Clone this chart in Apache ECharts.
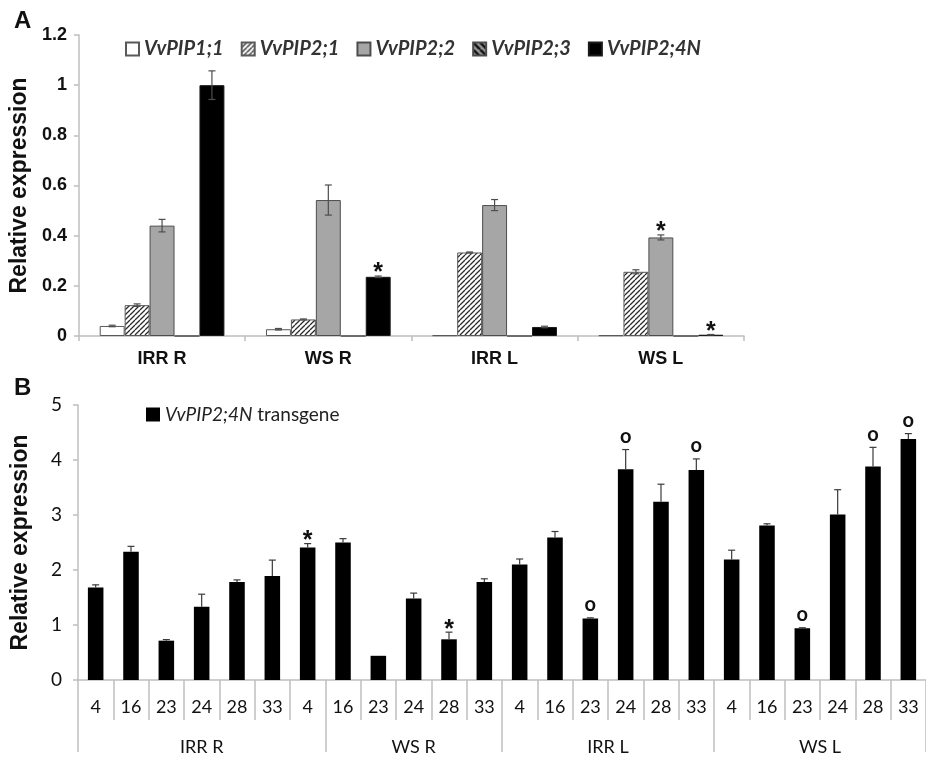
<!DOCTYPE html>
<html>
<head>
<meta charset="utf-8">
<script src="https://cdn.jsdelivr.net/npm/echarts@6/dist/echarts.min.js"></script>
<style>
  html, body { margin: 0; padding: 0; background: #fff; }
  #chart { width: 926px; height: 758px; }
</style>
</head>
<body>
<div id="chart"></div>
<script>
// ---- Panel A: native aquaporin expression per condition ----
const groupsA = ['IRR R', 'WS R', 'IRR L', 'WS L'];
const genesA = ['VvPIP1;1', 'VvPIP2;1', 'VvPIP2;2', 'VvPIP2;3', 'VvPIP2;4N'];
const pip11 = [0.040, 0.027, 0.003, 0.003];
const pip11Err = [0.003, 0.003, 0, 0];
const pip21 = [0.123, 0.066, 0.333, 0.256];
const pip21Err = [0.005, 0.002, 0.002, 0.008];
const pip22 = [0.440, 0.542, 0.522, 0.393];
const pip22Err = [0.025, 0.060, 0.022, 0.010];
const pip23 = [0, 0, 0, 0];
const pip23Err = [0, 0, 0, 0];
const pip24N = [1.000, 0.236, 0.036, 0.005];
const pip24NErr = [0.057, 0.003, 0.003, 0.001];
const pip11Marks = ['', '', '', ''];
const pip21Marks = ['', '', '', ''];
const pip22Marks = ['', '', '', '*'];
const pip23Marks = ['', '', '', ''];
const pip24NMarks = ['', '*', '', '*'];
const yTicksA = { min: 0, max: 1.2, step: 0.2 };

// ---- Panel B: transgene expression per plant line ----
const linesB = ['4', '16', '23', '24', '28', '33', '4', '16', '23', '24', '28', '33',
                '4', '16', '23', '24', '28', '33', '4', '16', '23', '24', '28', '33'];
const groupsB = ['IRR R', 'WS R', 'IRR L', 'WS L'];
const groupBoundsB = [0, 7, 12, 18, 24];
const transgene = [1.68, 2.33, 0.715, 1.33, 1.78, 1.89, 2.41, 2.50, 0.44, 1.48, 0.74, 1.78,
                   2.10, 2.59, 1.12, 3.83, 3.24, 3.82, 2.19, 2.81, 0.94, 3.01, 3.88, 4.38];
const transgeneErr = [0.05, 0.10, 0.02, 0.23, 0.04, 0.29, 0.07, 0.07, 0.00, 0.10, 0.13, 0.06,
                      0.10, 0.11, 0.01, 0.36, 0.32, 0.20, 0.17, 0.03, 0.01, 0.45, 0.35, 0.10];
const transgeneMarks = ['', '', '', '', '', '', '*', '', '', '', '*', '',
                        '', '', 'o', 'o', '', 'o', '', '', 'o', '', 'o', 'o'];
const yTicksB = { min: 0, max: 5, step: 1 };

// ---- styling helpers ----
const AXIS_GRAY = '#bfbfbf';
const ERR_COLOR = '#4d4d4d';
const ARIAL = '"Liberation Sans", Arial, sans-serif';
const CALIBRI = 'Lato, "Open Sans", sans-serif';

function hatch(size, width, stroke, bg, forward) {
  const c = document.createElement('canvas');
  c.width = size; c.height = size;
  const g = c.getContext('2d');
  g.fillStyle = bg; g.fillRect(0, 0, size, size);
  g.strokeStyle = stroke; g.lineWidth = width;
  g.beginPath();
  for (let k = -1; k <= 1; k++) {
    if (forward) { g.moveTo(k * size, size); g.lineTo(k * size + size, 0); }
    else { g.moveTo(k * size, 0); g.lineTo(k * size + size, size); }
  }
  g.stroke();
  return { image: c, repeat: 'repeat' };
}

const fillsA = [
  '#ffffff',
  hatch(5, 1.3, '#2b2b2b', '#ffffff', true),
  '#a6a6a6',
  hatch(7, 2.6, '#111111', '#9a9a9a', false),
  '#000000'
];
const bordersA = ['#595959', '#595959', '#4d4d4d', '#4d4d4d', '#1a1a1a'];
const valuesA = [pip11, pip21, pip22, pip23, pip24N];
const errsA = [pip11Err, pip21Err, pip22Err, pip23Err, pip24NErr];
const marksA = [pip11Marks, pip21Marks, pip22Marks, pip23Marks, pip24NMarks];
const GAP_A = 0.25;

function errorBarsA(si) {
  return function (params, api) {
    const k = api.value(0), v = api.value(1), e = api.value(2);
    const band = api.size([1, 0])[0];
    const bw = band * (1 - GAP_A) / genesA.length;
    const x = api.coord([k, 0])[0] - band * (1 - GAP_A) / 2 + bw * (si + 0.5);
    const yHi = api.coord([k, v + e])[1];
    const yLo = api.coord([k, Math.max(v - e, 0)])[1];
    const children = [];
    const st = { stroke: ERR_COLOR, lineWidth: 1.2 };
    if (e > 0) {
      children.push({ type: 'line', shape: { x1: x, y1: yHi, x2: x, y2: yLo }, style: st });
      children.push({ type: 'line', shape: { x1: x - 3.5, y1: yHi, x2: x + 3.5, y2: yHi }, style: st });
      children.push({ type: 'line', shape: { x1: x - 3.5, y1: yLo, x2: x + 3.5, y2: yLo }, style: st });
    }
    const m = marksA[si][params.dataIndex];
    if (m) {
      children.push({ type: 'text', style: {
        text: m, x: x, y: yHi + 10, align: 'center', verticalAlign: 'bottom',
        font: 'bold 25px ' + ARIAL, fill: '#111' } });
    }
    return { type: 'group', children: children };
  };
}

function errorBarsB(params, api) {
  const k = api.value(0), v = api.value(1), e = api.value(2);
  const x = api.coord([k, 0])[0];
  const yTop = api.coord([k, v + e])[1];
  const yBar = api.coord([k, v])[1];
  const children = [];
  const st = { stroke: '#3a3a3a', lineWidth: 1.2 };
  if (e > 0) {
    children.push({ type: 'line', shape: { x1: x, y1: yTop, x2: x, y2: yBar }, style: st });
    children.push({ type: 'line', shape: { x1: x - 3.5, y1: yTop, x2: x + 3.5, y2: yTop }, style: st });
  }
  const m = transgeneMarks[params.dataIndex];
  if (m === '*') {
    children.push({ type: 'text', style: { text: m, x: x, y: yTop + 10, align: 'center',
      verticalAlign: 'bottom', font: 'bold 25px ' + ARIAL, fill: '#111' } });
  } else if (m) {
    children.push({ type: 'text', style: { text: m, x: x, y: yTop - 3, align: 'center',
      verticalAlign: 'bottom', font: 'bold 20px ' + CALIBRI, fill: '#111' } });
  }
  return { type: 'group', children: children };
}

const seriesA = [];
genesA.forEach(function (name, si) {
  seriesA.push({
    name: name, type: 'bar', xAxisIndex: 0, yAxisIndex: 0,
    barGap: '0%', barCategoryGap: (GAP_A * 100) + '%',
    itemStyle: { color: fillsA[si], borderColor: bordersA[si], borderWidth: 1 },
    data: valuesA[si], z: 2
  });
});
genesA.forEach(function (name, si) {
  seriesA.push({
    type: 'custom', xAxisIndex: 0, yAxisIndex: 0, z: 5, silent: true,
    renderItem: errorBarsA(si),
    data: valuesA[si].map(function (v, k) { return [k, v, errsA[si][k]]; })
  });
});

const groupCentersB = groupsB.map(function (g, i) {
  return (groupBoundsB[i] + groupBoundsB[i + 1]) / 2;
});

const option = {
  animation: false,
  backgroundColor: '#ffffff',
  title: [
    { text: 'A', left: 9, top: 4, textStyle: { fontFamily: ARIAL, fontWeight: 'bold', fontSize: 24, color: '#111' } },
    { text: 'B', left: 9, top: 371, textStyle: { fontFamily: ARIAL, fontWeight: 'bold', fontSize: 24, color: '#111' } }
  ],
  legend: [
    {
      data: genesA, left: 120, top: 34, itemWidth: 13, itemHeight: 13, itemGap: 17,
      icon: 'rect',
      textStyle: { fontFamily: CALIBRI, fontWeight: 'bold', fontStyle: 'italic', fontSize: 20, color: '#333' }
    },
    {
      data: ['VvPIP2;4N transgene'], left: 141, top: 400, itemWidth: 14, itemHeight: 14,
      icon: 'rect',
      formatter: function () { return '{i|VvPIP2;4N} transgene'; },
      textStyle: { fontFamily: CALIBRI, fontSize: 19, color: '#222',
        rich: { i: { fontFamily: CALIBRI, fontSize: 19, fontStyle: 'italic', color: '#222' } } }
    }
  ],
  grid: [
    { left: 77, top: 35, width: 667, height: 301 },
    { left: 78, top: 405, width: 857, height: 275 }
  ],
  xAxis: [
    {
      type: 'category', gridIndex: 0, data: groupsA,
      axisLine: { lineStyle: { color: AXIS_GRAY, width: 1.5 } },
      axisTick: { show: true, length: 5, lineStyle: { color: AXIS_GRAY, width: 1.5 } },
      axisLabel: { margin: 14, fontFamily: ARIAL, fontWeight: 'bold', fontSize: 18, color: '#111' }
    },
    {
      type: 'category', gridIndex: 1, data: linesB,
      axisLine: { lineStyle: { color: AXIS_GRAY, width: 1.5 } },
      axisTick: { show: true, length: 40, interval: 0, lineStyle: { color: AXIS_GRAY, width: 1.5 } },
      axisLabel: { interval: 0, margin: 18, fontFamily: CALIBRI, fontSize: 18, color: '#111' }
    },
    {
      type: 'value', gridIndex: 1, min: groupBoundsB[0], max: groupBoundsB[groupBoundsB.length - 1],
      position: 'bottom',
      axisLine: { show: false },
      splitLine: { show: false },
      axisTick: { show: true, length: 72, customValues: groupBoundsB,
        lineStyle: { color: AXIS_GRAY, width: 1.5 } },
      axisLabel: { margin: 58, customValues: groupCentersB,
        formatter: function (v) { return groupsB[groupCentersB.indexOf(v)] || ''; },
        fontFamily: CALIBRI, fontSize: 18, color: '#111' }
    }
  ],
  yAxis: [
    {
      type: 'value', gridIndex: 0, min: yTicksA.min, max: yTicksA.max, interval: yTicksA.step,
      name: 'Relative expression', nameLocation: 'middle', nameGap: 46,
      nameTextStyle: { fontFamily: ARIAL, fontWeight: 'bold', fontSize: 23, color: '#111' },
      axisLine: { show: true, lineStyle: { color: AXIS_GRAY, width: 1.5 } },
      axisTick: { show: true, length: 5, lineStyle: { color: AXIS_GRAY, width: 1.5 } },
      splitLine: { show: false },
      axisLabel: { margin: 12, fontFamily: ARIAL, fontWeight: 'bold', fontSize: 18, color: '#111' }
    },
    {
      type: 'value', gridIndex: 1, min: yTicksB.min, max: yTicksB.max, interval: yTicksB.step,
      name: 'Relative expression', nameLocation: 'middle', nameGap: 46,
      nameTextStyle: { fontFamily: ARIAL, fontWeight: 'bold', fontSize: 23, color: '#111' },
      axisLine: { show: true, lineStyle: { color: AXIS_GRAY, width: 1.5 } },
      axisTick: { show: true, length: 5, lineStyle: { color: AXIS_GRAY, width: 1.5 } },
      splitLine: { show: false },
      axisLabel: { margin: 16, fontFamily: CALIBRI, fontSize: 19, color: '#111' }
    }
  ],
  series: seriesA.concat([
    {
      name: 'VvPIP2;4N transgene', type: 'bar', xAxisIndex: 1, yAxisIndex: 1,
      barCategoryGap: '56%',
      itemStyle: { color: '#000000' },
      data: transgene, z: 2
    },
    {
      type: 'custom', xAxisIndex: 1, yAxisIndex: 1, z: 5, silent: true,
      renderItem: errorBarsB,
      data: transgene.map(function (v, k) { return [k, v, transgeneErr[k]]; })
    }
  ])
};

const chart = echarts.init(document.getElementById('chart'), null, { renderer: 'canvas' });
chart.setOption(option);
</script>
</body>
</html>
